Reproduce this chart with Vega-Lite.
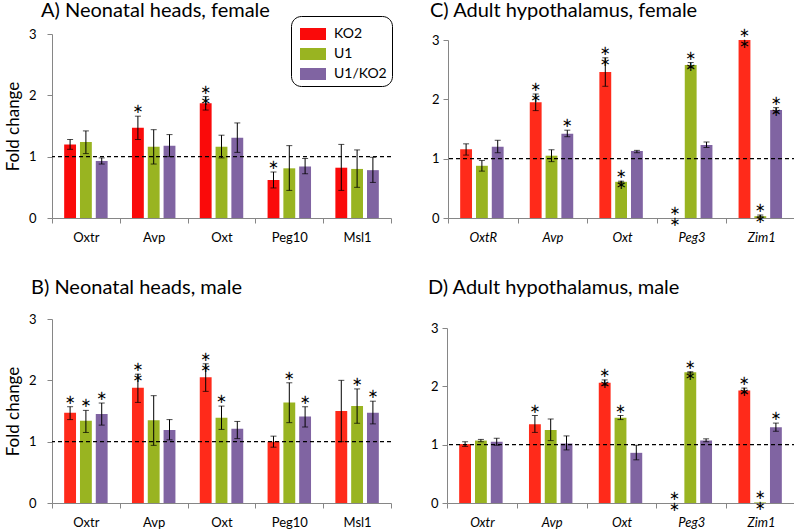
{
  "$schema": "https://vega.github.io/schema/vega-lite/v6.json",
  "padding": {"left": 4, "top": 0, "right": 0, "bottom": 0},
  "background": "white",
  "data": {"values": [
    {"panel":"A","gene":"Oxtr","group":"KO2","value":1.20,"lo":1.12,"hi":1.28,"sig":""},
    {"panel":"A","gene":"Oxtr","group":"U1","value":1.24,"lo":1.05,"hi":1.42,"sig":""},
    {"panel":"A","gene":"Oxtr","group":"U1/KO2","value":0.93,"lo":0.88,"hi":0.98,"sig":""},
    {"panel":"A","gene":"Avp","group":"KO2","value":1.47,"lo":1.28,"hi":1.66,"sig":"\u2217"},
    {"panel":"A","gene":"Avp","group":"U1","value":1.16,"lo":0.88,"hi":1.44,"sig":""},
    {"panel":"A","gene":"Avp","group":"U1/KO2","value":1.18,"lo":1.00,"hi":1.36,"sig":""},
    {"panel":"A","gene":"Oxt","group":"KO2","value":1.87,"lo":1.76,"hi":1.98,"sig":"\u2217\n\u2217"},
    {"panel":"A","gene":"Oxt","group":"U1","value":1.16,"lo":0.98,"hi":1.35,"sig":""},
    {"panel":"A","gene":"Oxt","group":"U1/KO2","value":1.31,"lo":1.07,"hi":1.55,"sig":""},
    {"panel":"A","gene":"Peg10","group":"KO2","value":0.62,"lo":0.49,"hi":0.75,"sig":"\u2217"},
    {"panel":"A","gene":"Peg10","group":"U1","value":0.81,"lo":0.45,"hi":1.18,"sig":""},
    {"panel":"A","gene":"Peg10","group":"U1/KO2","value":0.84,"lo":0.72,"hi":0.97,"sig":""},
    {"panel":"A","gene":"Msl1","group":"KO2","value":0.82,"lo":0.45,"hi":1.20,"sig":""},
    {"panel":"A","gene":"Msl1","group":"U1","value":0.80,"lo":0.50,"hi":1.11,"sig":""},
    {"panel":"A","gene":"Msl1","group":"U1/KO2","value":0.78,"lo":0.58,"hi":0.99,"sig":""},

    {"panel":"B","gene":"Oxtr","group":"KO2","value":1.47,"lo":1.36,"hi":1.57,"sig":"\u2217"},
    {"panel":"B","gene":"Oxtr","group":"U1","value":1.34,"lo":1.15,"hi":1.51,"sig":"\u2217"},
    {"panel":"B","gene":"Oxtr","group":"U1/KO2","value":1.45,"lo":1.27,"hi":1.63,"sig":"\u2217"},
    {"panel":"B","gene":"Avp","group":"KO2","value":1.88,"lo":1.64,"hi":2.10,"sig":"\u2217\n\u2217"},
    {"panel":"B","gene":"Avp","group":"U1","value":1.35,"lo":0.94,"hi":1.75,"sig":""},
    {"panel":"B","gene":"Avp","group":"U1/KO2","value":1.19,"lo":1.03,"hi":1.36,"sig":""},
    {"panel":"B","gene":"Oxt","group":"KO2","value":2.05,"lo":1.82,"hi":2.27,"sig":"\u2217\n\u2217"},
    {"panel":"B","gene":"Oxt","group":"U1","value":1.39,"lo":1.20,"hi":1.58,"sig":"\u2217"},
    {"panel":"B","gene":"Oxt","group":"U1/KO2","value":1.21,"lo":1.05,"hi":1.33,"sig":""},
    {"panel":"B","gene":"Peg10","group":"KO2","value":1.00,"lo":0.91,"hi":1.09,"sig":""},
    {"panel":"B","gene":"Peg10","group":"U1","value":1.64,"lo":1.31,"hi":1.96,"sig":"\u2217"},
    {"panel":"B","gene":"Peg10","group":"U1/KO2","value":1.41,"lo":1.24,"hi":1.57,"sig":"\u2217"},
    {"panel":"B","gene":"Msl1","group":"KO2","value":1.50,"lo":1.00,"hi":2.00,"sig":""},
    {"panel":"B","gene":"Msl1","group":"U1","value":1.58,"lo":1.30,"hi":1.86,"sig":"\u2217"},
    {"panel":"B","gene":"Msl1","group":"U1/KO2","value":1.47,"lo":1.29,"hi":1.66,"sig":"\u2217"},

    {"panel":"C","gene":"OxtR","group":"KO2","value":1.16,"lo":1.06,"hi":1.25,"sig":""},
    {"panel":"C","gene":"OxtR","group":"U1","value":0.88,"lo":0.79,"hi":0.97,"sig":""},
    {"panel":"C","gene":"OxtR","group":"U1/KO2","value":1.20,"lo":1.10,"hi":1.31,"sig":""},
    {"panel":"C","gene":"Avp","group":"KO2","value":1.95,"lo":1.81,"hi":2.09,"sig":"\u2217\n\u2217"},
    {"panel":"C","gene":"Avp","group":"U1","value":1.05,"lo":0.95,"hi":1.15,"sig":""},
    {"panel":"C","gene":"Avp","group":"U1/KO2","value":1.42,"lo":1.37,"hi":1.48,"sig":"\u2217"},
    {"panel":"C","gene":"Oxt","group":"KO2","value":2.46,"lo":2.22,"hi":2.70,"sig":"\u2217\n\u2217"},
    {"panel":"C","gene":"Oxt","group":"U1","value":0.61,"lo":0.59,"hi":0.62,"sig":"\u2217\n\u2217"},
    {"panel":"C","gene":"Oxt","group":"U1/KO2","value":1.13,"lo":1.10,"hi":1.14,"sig":""},
    {"panel":"C","gene":"Peg3","group":"KO2","value":0.0,"lo":0.0,"hi":0.0,"sig":"\u2217\n\u2217"},
    {"panel":"C","gene":"Peg3","group":"U1","value":2.58,"lo":2.54,"hi":2.62,"sig":"\u2217\n\u2217"},
    {"panel":"C","gene":"Peg3","group":"U1/KO2","value":1.23,"lo":1.19,"hi":1.28,"sig":""},
    {"panel":"C","gene":"Zim1","group":"KO2","value":3.0,"lo":3.0,"hi":3.0,"sig":"\u2217\n\u2217"},
    {"panel":"C","gene":"Zim1","group":"U1","value":0.03,"lo":0.02,"hi":0.05,"sig":"\u2217\n\u2217"},
    {"panel":"C","gene":"Zim1","group":"U1/KO2","value":1.82,"lo":1.78,"hi":1.86,"sig":"\u2217\n\u2217"},

    {"panel":"D","gene":"Oxtr","group":"KO2","value":1.01,"lo":0.97,"hi":1.05,"sig":""},
    {"panel":"D","gene":"Oxtr","group":"U1","value":1.07,"lo":1.05,"hi":1.09,"sig":""},
    {"panel":"D","gene":"Oxtr","group":"U1/KO2","value":1.05,"lo":0.99,"hi":1.11,"sig":""},
    {"panel":"D","gene":"Avp","group":"KO2","value":1.35,"lo":1.21,"hi":1.50,"sig":"\u2217"},
    {"panel":"D","gene":"Avp","group":"U1","value":1.25,"lo":1.07,"hi":1.44,"sig":""},
    {"panel":"D","gene":"Avp","group":"U1/KO2","value":1.02,"lo":0.91,"hi":1.15,"sig":""},
    {"panel":"D","gene":"Oxt","group":"KO2","value":2.06,"lo":2.02,"hi":2.11,"sig":"\u2217\n\u2217"},
    {"panel":"D","gene":"Oxt","group":"U1","value":1.46,"lo":1.43,"hi":1.50,"sig":"\u2217"},
    {"panel":"D","gene":"Oxt","group":"U1/KO2","value":0.86,"lo":0.74,"hi":0.99,"sig":""},
    {"panel":"D","gene":"Peg3","group":"KO2","value":0.0,"lo":0.0,"hi":0.0,"sig":"\u2217\n\u2217"},
    {"panel":"D","gene":"Peg3","group":"U1","value":2.24,"lo":2.23,"hi":2.25,"sig":"\u2217\n\u2217"},
    {"panel":"D","gene":"Peg3","group":"U1/KO2","value":1.07,"lo":1.05,"hi":1.10,"sig":""},
    {"panel":"D","gene":"Zim1","group":"KO2","value":1.93,"lo":1.89,"hi":1.97,"sig":"\u2217\n\u2217"},
    {"panel":"D","gene":"Zim1","group":"U1","value":0.01,"lo":0.01,"hi":0.01,"sig":"\u2217\n\u2217"},
    {"panel":"D","gene":"Zim1","group":"U1/KO2","value":1.30,"lo":1.23,"hi":1.37,"sig":"\u2217"}
  ]},
  "spacing": 34,
  "resolve": {"scale": {"color": "independent"}, "legend": {"color": "independent"}},
  "vconcat": [
    {
      "spacing": 37,
      "resolve": {"scale": {"color": "independent"}, "legend": {"color": "independent"}},
      "hconcat": [
        {
          "width": 339, "height": 202,
          "title": {"text": "A) Neonatal heads, female", "anchor": "start", "frame": "group", "dx": -11, "offset": -5},
          "transform": [{"filter": "datum.panel === 'A'"}],
          "layer": [
            {
              "encoding": {
                "x": {"field": "gene", "type": "nominal", "sort": ["Oxtr","Avp","Oxt","Peg10","Msl1"], "scale": {"paddingInner": 0, "paddingOuter": 0}, "axis": {"title": null, "labelAngle": 0, "tickBand": "extent", "tickSize": 5, "labelPadding": 8}},
                "xOffset": {"field": "group", "type": "nominal", "sort": ["KO2","U1","U1/KO2"], "scale": {"paddingInner": 0.25, "paddingOuter": 0.77}}
              },
              "layer": [
                {"mark": {"type": "bar"}, "encoding": {
                  "y": {"field": "value", "type": "quantitative", "title": "Fold change", "scale": {"domain": [0,3], "nice": false, "range": [202, 18]}, "axis": {"values": [0,1,2,3], "format": "d", "tickSize": 5, "labelPadding": 11, "titlePadding": 6}},
                  "color": {"field": "group", "type": "nominal", "scale": {"domain": ["KO2","U1","U1/KO2"], "range": ["#FA0A0A","#99B421","#8064A2"]}, "legend": {"orient": "none", "legendX": 239, "legendY": 0, "title": null, "symbolType": "M-1,-0.46H1V0.46H-1Z", "symbolSize": 676}}
                }},
                {"transform": [{"filter": "datum.hi > datum.lo"}], "mark": {"type": "rule", "color": "#000", "strokeWidth": 1}, "encoding": {"y": {"field": "lo", "type": "quantitative", "title": "Fold change", "scale": {"domain": [0,3], "nice": false, "range": [202, 18]}}, "y2": {"field": "hi"}}},
                {"transform": [{"filter": "datum.hi > datum.lo"}], "mark": {"type": "tick", "color": "#000", "thickness": 1, "size": 6, "orient": "horizontal"}, "encoding": {"y": {"field": "lo", "type": "quantitative", "title": "Fold change", "scale": {"domain": [0,3], "nice": false, "range": [202, 18]}}}},
                {"transform": [{"filter": "datum.hi > datum.lo"}], "mark": {"type": "tick", "color": "#000", "thickness": 1, "size": 6, "orient": "horizontal"}, "encoding": {"y": {"field": "hi", "type": "quantitative", "title": "Fold change", "scale": {"domain": [0,3], "nice": false, "range": [202, 18]}}}},
                {"transform": [{"filter": "datum.sig !== ''"}], "mark": {"type": "text", "baseline": "bottom", "lineBreak": "\n", "lineHeight": 11, "font": "DejaVu Sans", "fontSize": 13, "color": "#000"}, "encoding": {"y": {"field": "hi", "type": "quantitative", "title": "Fold change", "scale": {"domain": [0,3], "nice": false, "range": [202, 18]}}, "text": {"field": "sig"}}}
              ]
            },
            {"data": {"values": [{}]}, "mark": {"type": "rule", "strokeDash": [4,3], "color": "#000", "strokeWidth": 1.2}, "encoding": {"y": {"datum": 1, "type": "quantitative", "title": "Fold change"}}}
          ]
        },
        {
          "width": 348, "height": 202,
          "title": {"text": "C) Adult hypothalamus, female", "anchor": "start", "frame": "group", "dx": -18, "offset": -5},
          "transform": [{"filter": "datum.panel === 'C'"}],
          "layer": [
            {
              "encoding": {
                "x": {"field": "gene", "type": "nominal", "sort": ["OxtR","Avp","Oxt","Peg3","Zim1"], "scale": {"paddingInner": 0, "paddingOuter": 0}, "axis": {"title": null, "labelAngle": 0, "tickBand": "extent", "tickSize": 5, "labelPadding": 8, "labelFontStyle": "italic"}},
                "xOffset": {"field": "group", "type": "nominal", "sort": ["KO2","U1","U1/KO2"], "scale": {"paddingInner": 0.167, "paddingOuter": 0.517}}
              },
              "layer": [
                {"mark": {"type": "bar"}, "encoding": {
                  "y": {"field": "value", "type": "quantitative", "title": null, "scale": {"domain": [0,3], "nice": false, "range": [202, 24]}, "axis": {"values": [0,1,2,3], "format": "d", "tickSize": 5, "labelPadding": 4}},
                  "color": {"field": "group", "type": "nominal", "scale": {"domain": ["KO2","U1","U1/KO2"], "range": ["#FF2A1A","#99B421","#8064A2"]}, "legend": null}
                }},
                {"transform": [{"filter": "datum.hi > datum.lo"}], "mark": {"type": "rule", "color": "#000", "strokeWidth": 1}, "encoding": {"y": {"field": "lo", "type": "quantitative", "title": null, "scale": {"domain": [0,3], "nice": false, "range": [202, 24]}}, "y2": {"field": "hi"}}},
                {"transform": [{"filter": "datum.hi > datum.lo"}], "mark": {"type": "tick", "color": "#000", "thickness": 1, "size": 6, "orient": "horizontal"}, "encoding": {"y": {"field": "lo", "type": "quantitative", "title": null, "scale": {"domain": [0,3], "nice": false, "range": [202, 24]}}}},
                {"transform": [{"filter": "datum.hi > datum.lo"}], "mark": {"type": "tick", "color": "#000", "thickness": 1, "size": 6, "orient": "horizontal"}, "encoding": {"y": {"field": "hi", "type": "quantitative", "title": null, "scale": {"domain": [0,3], "nice": false, "range": [202, 24]}}}},
                {"transform": [{"filter": "datum.sig !== ''"}], "mark": {"type": "text", "baseline": "bottom", "lineBreak": "\n", "lineHeight": 11, "font": "DejaVu Sans", "fontSize": 13, "color": "#000"}, "encoding": {"y": {"field": "hi", "type": "quantitative", "title": null, "scale": {"domain": [0,3], "nice": false, "range": [202, 24]}}, "text": {"field": "sig"}}}
              ]
            },
            {"data": {"values": [{}]}, "mark": {"type": "rule", "strokeDash": [4,3], "color": "#000", "strokeWidth": 1.2}, "encoding": {"y": {"datum": 1, "type": "quantitative", "title": null}}}
          ]
        }
      ]
    },
    {
      "spacing": 36,
      "resolve": {"scale": {"color": "independent"}, "legend": {"color": "independent"}},
      "hconcat": [
        {
          "width": 339, "height": 207,
          "title": {"text": "B) Neonatal heads, male", "anchor": "start", "frame": "group", "dx": -21, "offset": -2},
          "transform": [{"filter": "datum.panel === 'B'"}],
          "layer": [
            {
              "encoding": {
                "x": {"field": "gene", "type": "nominal", "sort": ["Oxtr","Avp","Oxt","Peg10","Msl1"], "scale": {"paddingInner": 0, "paddingOuter": 0}, "axis": {"title": null, "labelAngle": 0, "tickBand": "extent", "tickSize": 5, "labelPadding": 8}},
                "xOffset": {"field": "group", "type": "nominal", "sort": ["KO2","U1","U1/KO2"], "scale": {"paddingInner": 0.25, "paddingOuter": 0.77}}
              },
              "layer": [
                {"mark": {"type": "bar"}, "encoding": {
                  "y": {"field": "value", "type": "quantitative", "title": "Fold change", "scale": {"domain": [0,3], "nice": false, "range": [207, 23]}, "axis": {"values": [0,1,2,3], "format": "d", "tickSize": 5, "labelPadding": 11, "titlePadding": 6}},
                  "color": {"field": "group", "type": "nominal", "scale": {"domain": ["KO2","U1","U1/KO2"], "range": ["#FF2A1A","#99B421","#8064A2"]}, "legend": null}
                }},
                {"transform": [{"filter": "datum.hi > datum.lo"}], "mark": {"type": "rule", "color": "#000", "strokeWidth": 1}, "encoding": {"y": {"field": "lo", "type": "quantitative", "title": "Fold change", "scale": {"domain": [0,3], "nice": false, "range": [207, 23]}}, "y2": {"field": "hi"}}},
                {"transform": [{"filter": "datum.hi > datum.lo"}], "mark": {"type": "tick", "color": "#000", "thickness": 1, "size": 6, "orient": "horizontal"}, "encoding": {"y": {"field": "lo", "type": "quantitative", "title": "Fold change", "scale": {"domain": [0,3], "nice": false, "range": [207, 23]}}}},
                {"transform": [{"filter": "datum.hi > datum.lo"}], "mark": {"type": "tick", "color": "#000", "thickness": 1, "size": 6, "orient": "horizontal"}, "encoding": {"y": {"field": "hi", "type": "quantitative", "title": "Fold change", "scale": {"domain": [0,3], "nice": false, "range": [207, 23]}}}},
                {"transform": [{"filter": "datum.sig !== ''"}], "mark": {"type": "text", "baseline": "bottom", "lineBreak": "\n", "lineHeight": 11, "font": "DejaVu Sans", "fontSize": 13, "color": "#000"}, "encoding": {"y": {"field": "hi", "type": "quantitative", "title": "Fold change", "scale": {"domain": [0,3], "nice": false, "range": [207, 23]}}, "text": {"field": "sig"}}}
              ]
            },
            {"data": {"values": [{}]}, "mark": {"type": "rule", "strokeDash": [4,3], "color": "#000", "strokeWidth": 1.2}, "encoding": {"y": {"datum": 1, "type": "quantitative", "title": "Fold change"}}}
          ]
        },
        {
          "width": 349, "height": 207,
          "title": {"text": "D) Adult hypothalamus, male", "anchor": "start", "frame": "group", "dx": -19, "offset": -2},
          "transform": [{"filter": "datum.panel === 'D'"}],
          "layer": [
            {
              "encoding": {
                "x": {"field": "gene", "type": "nominal", "sort": ["Oxtr","Avp","Oxt","Peg3","Zim1"], "scale": {"paddingInner": 0, "paddingOuter": 0}, "axis": {"title": null, "labelAngle": 0, "tickBand": "extent", "tickSize": 5, "labelPadding": 8, "labelFontStyle": "italic"}},
                "xOffset": {"field": "group", "type": "nominal", "sort": ["KO2","U1","U1/KO2"], "scale": {"paddingInner": 0.167, "paddingOuter": 0.517}}
              },
              "layer": [
                {"mark": {"type": "bar"}, "encoding": {
                  "y": {"field": "value", "type": "quantitative", "title": null, "scale": {"domain": [0,3], "nice": false, "range": [207, 32]}, "axis": {"values": [0,1,2,3], "format": "d", "tickSize": 5, "labelPadding": 4}},
                  "color": {"field": "group", "type": "nominal", "scale": {"domain": ["KO2","U1","U1/KO2"], "range": ["#FF2A1A","#99B421","#8064A2"]}, "legend": null}
                }},
                {"transform": [{"filter": "datum.hi > datum.lo"}], "mark": {"type": "rule", "color": "#000", "strokeWidth": 1}, "encoding": {"y": {"field": "lo", "type": "quantitative", "title": null, "scale": {"domain": [0,3], "nice": false, "range": [207, 32]}}, "y2": {"field": "hi"}}},
                {"transform": [{"filter": "datum.hi > datum.lo"}], "mark": {"type": "tick", "color": "#000", "thickness": 1, "size": 6, "orient": "horizontal"}, "encoding": {"y": {"field": "lo", "type": "quantitative", "title": null, "scale": {"domain": [0,3], "nice": false, "range": [207, 32]}}}},
                {"transform": [{"filter": "datum.hi > datum.lo"}], "mark": {"type": "tick", "color": "#000", "thickness": 1, "size": 6, "orient": "horizontal"}, "encoding": {"y": {"field": "hi", "type": "quantitative", "title": null, "scale": {"domain": [0,3], "nice": false, "range": [207, 32]}}}},
                {"transform": [{"filter": "datum.sig !== ''"}], "mark": {"type": "text", "baseline": "bottom", "lineBreak": "\n", "lineHeight": 11, "font": "DejaVu Sans", "fontSize": 13, "color": "#000"}, "encoding": {"y": {"field": "hi", "type": "quantitative", "title": null, "scale": {"domain": [0,3], "nice": false, "range": [207, 32]}}, "text": {"field": "sig"}}}
              ]
            },
            {"data": {"values": [{}]}, "mark": {"type": "rule", "strokeDash": [4,3], "color": "#000", "strokeWidth": 1.2}, "encoding": {"y": {"datum": 1, "type": "quantitative", "title": null}}}
          ]
        }
      ]
    }
  ],
  "config": {
    "view": {"stroke": null},
    "font": "Lato",
    "title": {"fontSize": 20, "fontWeight": "normal", "color": "#000", "font": "Lato"},
    "axis": {"labelFont": "Lato", "labelFontSize": 13, "labelColor": "#000", "domainColor": "#868686", "tickColor": "#868686", "grid": false, "titleFont": "Lato", "titleFontSize": 17, "titleFontWeight": "normal", "titleColor": "#000"},
    "legend": {"labelFontSize": 14, "labelFont": "Lato", "labelColor": "#000", "strokeColor": "#000", "cornerRadius": 10, "padding": 5, "rowPadding": 0, "symbolOffset": 4, "symbolStrokeWidth": 0, "symbolOpacity": 1, "labelOffset": 8, "fillColor": "#fff"}
  }
}
